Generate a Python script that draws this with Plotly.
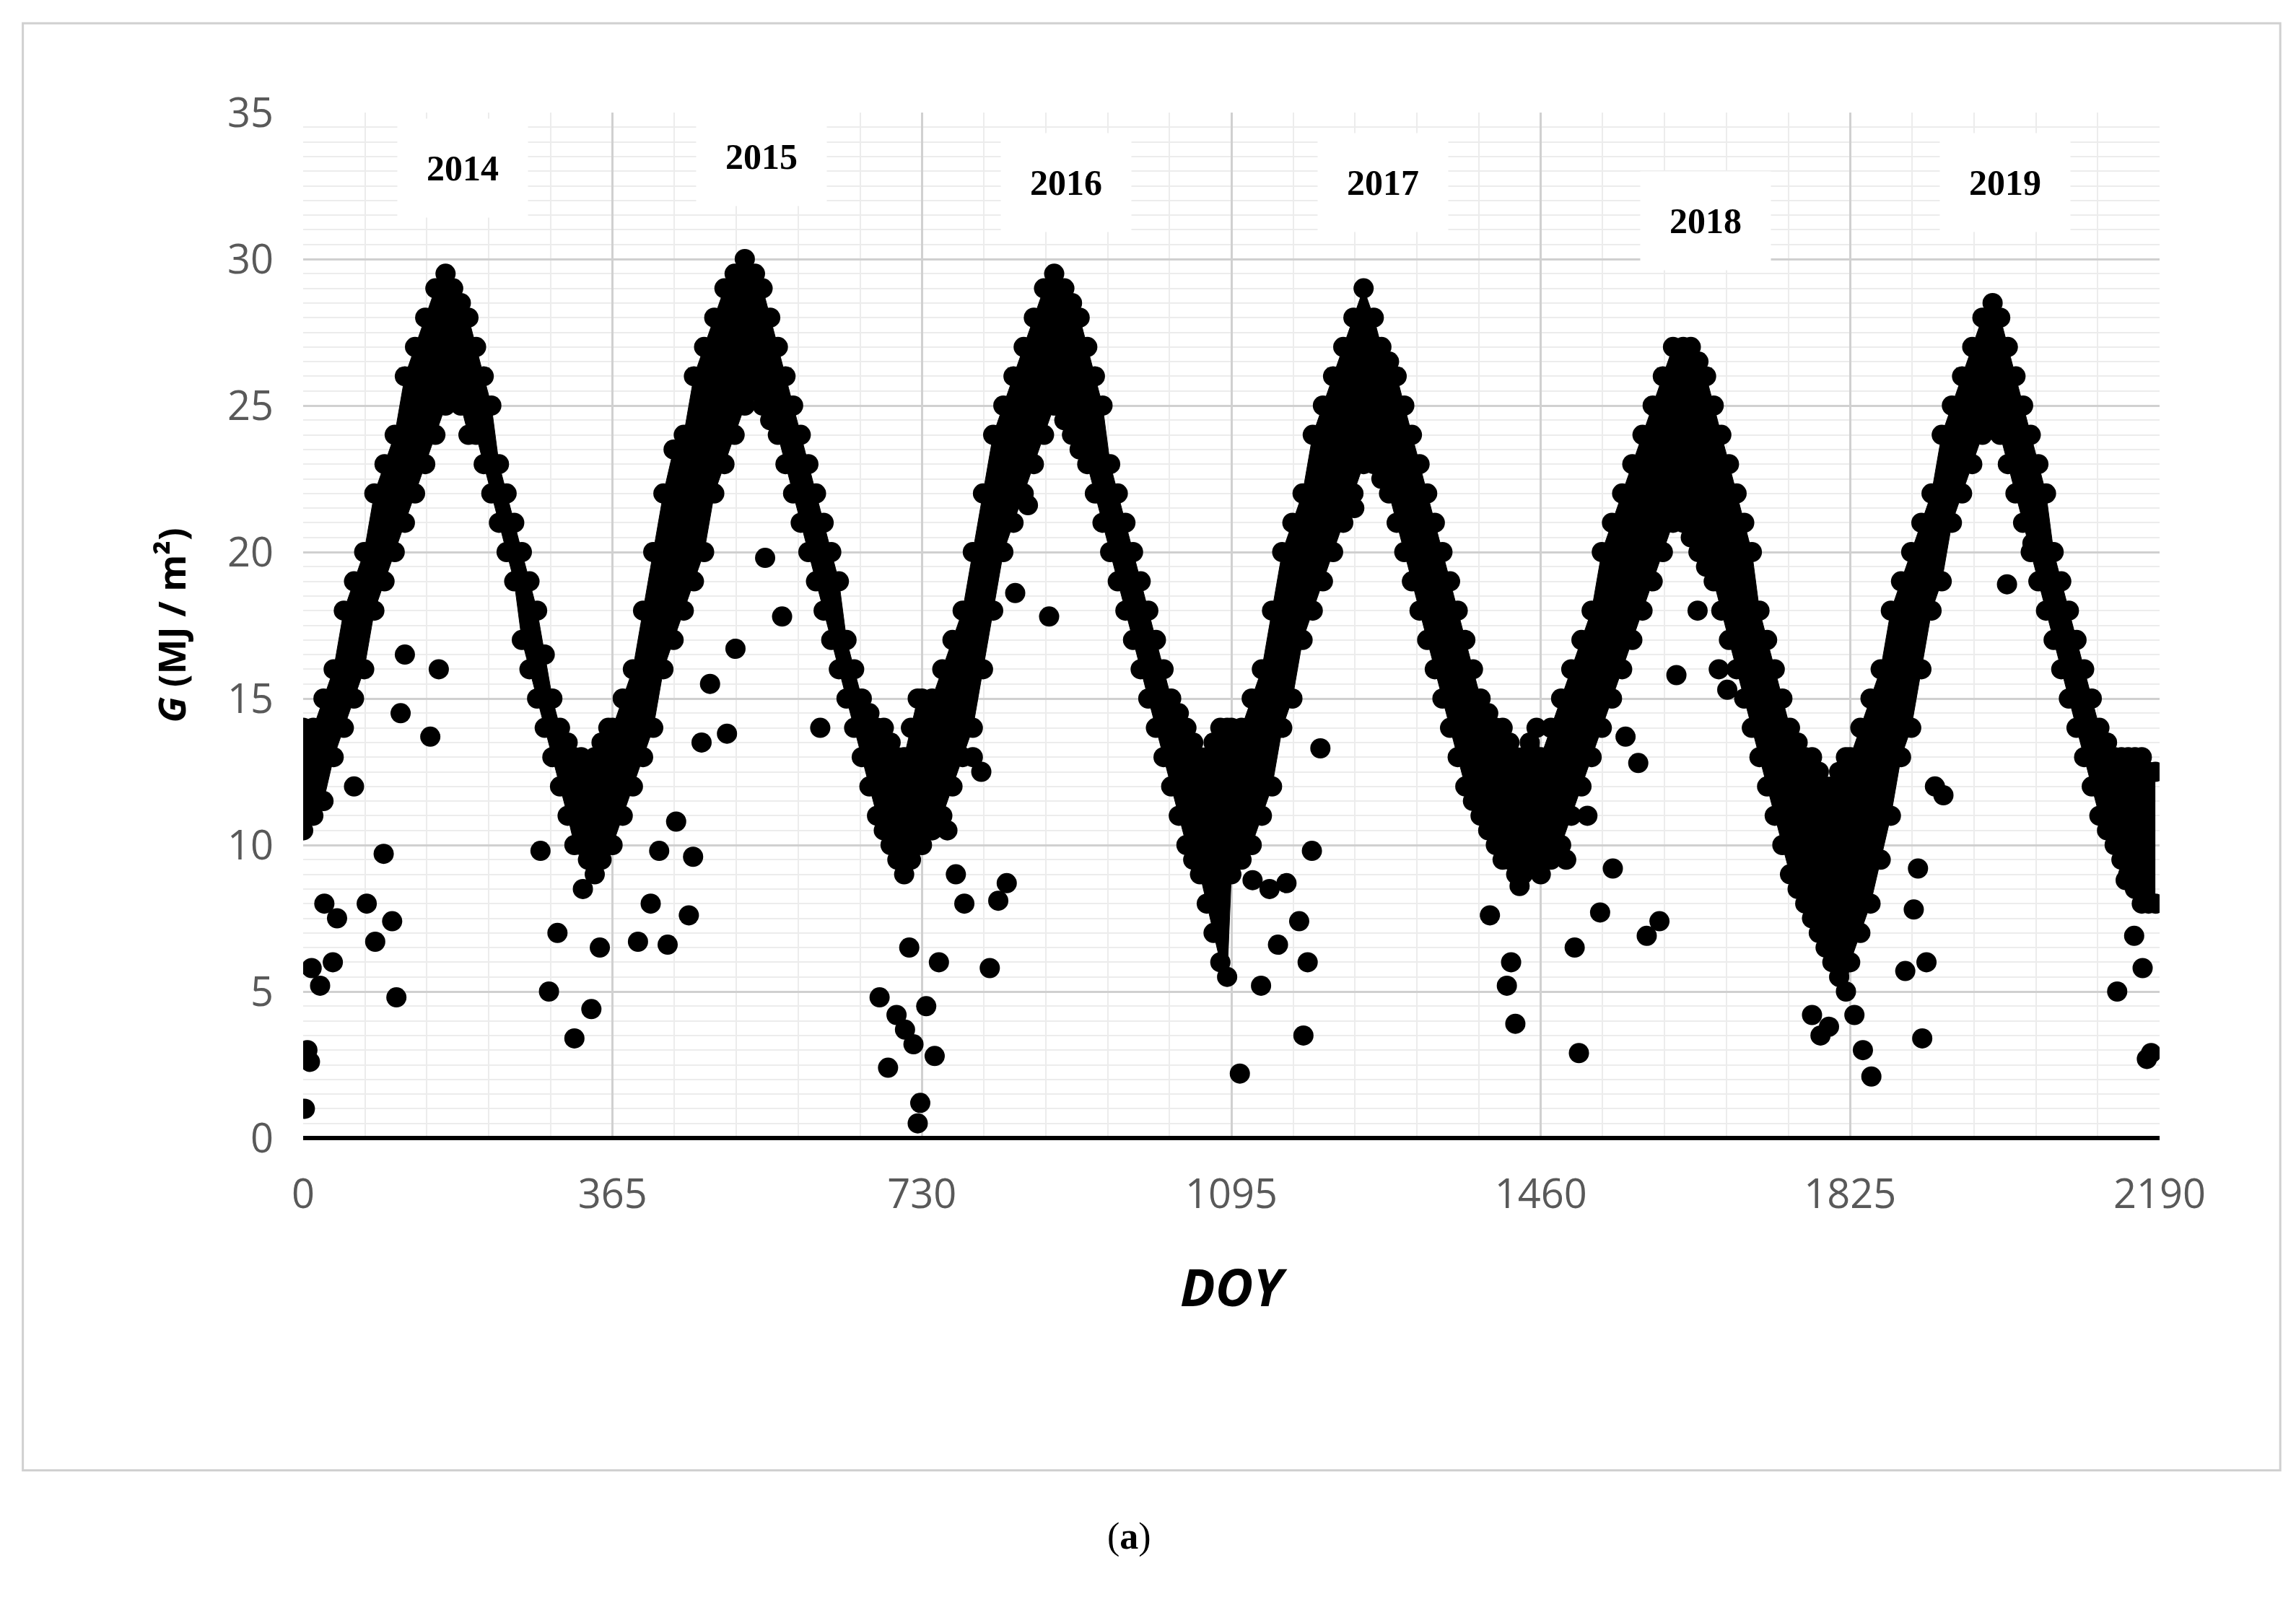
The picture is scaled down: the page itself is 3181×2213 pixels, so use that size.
import plotly.graph_objects as go

starts = [0, 365, 730, 1095, 1460, 1825]
day_offsets = [0,12,24,36,48,60,72,84,96,108,120,132,144,156,168,177,186,195,204,213,222,231,240,249,258,267,276,285,294,303,312,320,328,336,344,352,360]
years = ["2014", "2015", "2016", "2017", "2018", "2019"]

high = [
 [14,14,15,16,18,19,20,22,23,24,26,27,28,29,29.5,29,28.5,28,27,26,25,23,22,21,20,19,18,16.5,15,14,13.5,13,13,12.5,13,13.5,14],
 [14,15,16,18,20,22,23.5,24,26,27,28,29,29.5,30,29.5,29,28,27,26,25,24,23,22,21,20,19,17,16,15,14.5,14,14,13.5,13,13,14,15],
 [15,15,16,17,18,20,22,24,25,26,27,28,29,29.5,29,28.5,28,27,26,25,23,22,21,20,19,18,17,16,15,14.5,14,13.5,13,13,13.5,14,14],
 [14,14,15,16,18,20,21,22,24,25,26,27,28,29,28,27,26.5,26,25,24,23,22,21,20,19,18,17,16,15,14.5,14,14,13.5,13,13,13.5,14],
 [13,14,15,16,17,18,20,21,22,23,24,25,26,27,27,27,26.5,26,25,24,23,22,21,20,18,17,16,15,14,13.5,13,13,12.5,12,12,12.5,13],
 [13,14,15,16,18,19,20,21,22,24,25,26,27,28,28.5,28,27,26,25,24,23,22,20,19,18,17,16,15,14,13.5,13,13,13,13,13,12.5,12.5],
]
low = [
 [10.5,11,11.5,13,14,15,16,18,19,20,21,22,23,24,25,25.5,25,24,24,23,22,21,20,19,17,16,15,14,13,12,11,10,10,9.5,9,9.5,10],
 [10,11,12,13,14,16,17,18,19,20,22,23,24,25,25.5,25,24.5,24,23,22,21,20,19,18,17,16,15,14,13,12,11,10.5,10,9.5,9,9.5,10],
 [10,10.5,11,12,13,14,16,18,20,21,22,23,24,25,24.5,24,23.5,23,22,21,20,19,18,17,16,15,14,13,12,11,10,9.5,9,8,7,6,5.5],
 [9,9.5,10,11,12,14,15,17,18,19,20,21,22,23,23,22.5,22,21,20,19,18,17,16,15,14,13,12,11.5,11,10.5,10,9.5,9.5,9,9,9.5,10],
 [9,9.5,10,11,12,13,14,15,16,17,18,19,20,21,21,20.5,20,19.5,19,18,17,16,15,14,13,12,11,10,9,8.5,8,7.5,7,6.5,6,5.5,5],
 [6,7,8,9.5,11,13,14,16,18,19,21,22,23,24,24.5,24,23,22,21,20,19,18,17,16,15,14,13,12,11,10.5,10,9.5,9,8.5,8,8,8],
]
out_x = [2,5,8,10,20,25,35,40,60,75,85,95,105,110,115,120,150,160,280,290,300,320,330,340,350,
 395,410,420,430,440,455,460,470,480,500,510,545,565,610,680,690,700,710,715,720,725,728,
 735,745,750,760,770,780,790,800,810,820,830,840,855,880,
 1105,1120,1130,1140,1150,1160,1175,1180,1185,1190,1200,1240,1400,1420,1425,1430,1435,1450,
 1490,1500,1505,1515,1530,1545,1560,1575,1585,1600,1620,1645,1670,1680,1780,1790,1800,1815,1830,1840,1850,
 1890,1900,1905,1910,1915,1925,1935,2010,2040,2140,2150,2160,2170,2175,2180]
out_y = [1,3,2.6,5.8,5.2,8,6,7.5,12,8,6.7,9.7,7.4,4.8,14.5,16.5,13.7,16,9.8,5,7,3.4,8.5,4.4,6.5,
 6.7,8,9.8,6.6,10.8,7.6,9.6,13.5,15.5,13.8,16.7,19.8,17.8,14,4.8,2.4,4.2,3.7,6.5,3.2,0.5,1.2,
 4.5,2.8,6,10.5,9,8,13,12.5,5.8,8.1,8.7,18.6,21.6,17.8,
 2.2,8.8,5.2,8.5,6.6,8.7,7.4,3.5,6,9.8,13.3,21.5,7.6,5.2,6,3.9,8.6,9.3,
 9.5,6.5,2.9,11,7.7,9.2,13.7,12.8,6.9,7.4,15.8,18,16,15.3,4.2,3.5,3.8,6,4.2,3,2.1,
 5.7,7.8,9.2,3.4,6,12,11.7,18.9,20.3,5,8.8,6.9,5.8,2.7,2.9]
label_x = [188, 541, 900, 1274, 1654, 2008]
label_y = [33.1, 33.5, 32.6, 32.6, 31.3, 32.6]

xs, hs, ls = [], [], []
for s, h, l in zip(starts, high, low):
    xs += [s + d for d in day_offsets]
    hs += h
    ls += l

fig = go.Figure()
mk = dict(color="black", size=28)
fig.add_trace(go.Scatter(x=xs, y=ls, mode="lines+markers", marker=mk, line=dict(color="black", width=1), showlegend=False))
fig.add_trace(go.Scatter(x=xs, y=hs, mode="lines+markers", marker=mk, line=dict(color="black", width=1),
                         fill="tonexty", fillcolor="black", showlegend=False))
fig.add_trace(go.Scatter(x=out_x, y=out_y, mode="markers", marker=mk, showlegend=False))

for t, x, y in zip(years, label_x, label_y):
    fig.add_annotation(x=x, y=y, text="<b>%s</b>" % t, showarrow=False, bgcolor="white",
                       borderpad=40, font=dict(family="Liberation Serif", size=50, color="black"))

fig.add_shape(type="rect", xref="paper", yref="paper", x0=-0.151, x1=1.065, y0=-0.324, y1=1.087,
              line=dict(color="#d0d0d0", width=3), layer="below")
fig.add_annotation(xref="paper", yref="paper", x=0.445, y=-0.41, text="(<b>a</b>)", showarrow=False,
                   font=dict(family="Liberation Serif", size=52, color="black"))

fig.update_layout(
    width=3181, height=2213, plot_bgcolor="white", paper_bgcolor="white",
    margin=dict(l=412, r=197, t=148, b=644),
    font=dict(family="Open Sans", color="#595959", size=56),
    xaxis=dict(range=[0, 2190], tickvals=[0,365,730,1095,1460,1825,2190], showgrid=True, gridcolor="#d0d0d0", gridwidth=3,
               zeroline=False, showline=False, ticks="", ticklabelstandoff=40,
               minor=dict(dtick=73, showgrid=True, gridcolor="#ececec", gridwidth=2),
               title=dict(text="<b><i>DOY</i></b>", font=dict(size=72, color="black"), standoff=70)),
    yaxis=dict(range=[0, 35], dtick=5, showgrid=True, gridcolor="#d0d0d0", gridwidth=3, zeroline=True,
               zerolinecolor="black", zerolinewidth=6, ticks="", ticklabelstandoff=40,
               minor=dict(dtick=0.5, showgrid=True, gridcolor="#ececec", gridwidth=2),
               title=dict(text="<b><i>G</i> (MJ / m²)</b>", font=dict(size=52, color="black"), standoff=40)),
)
fig.write_html("out.html")
